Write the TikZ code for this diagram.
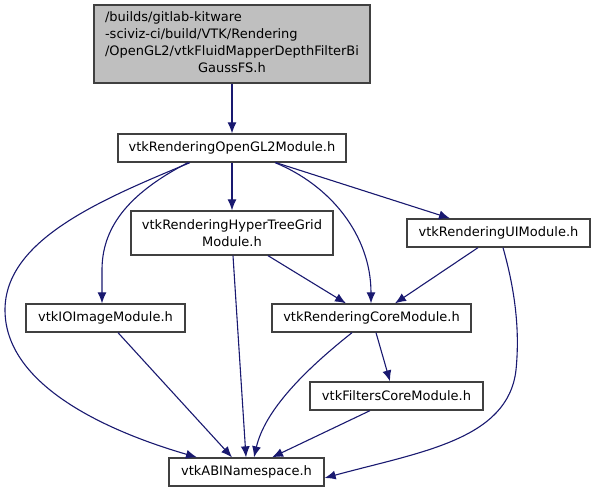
\documentclass[tikz,border=0pt]{standalone}
\usepackage{fontspec}
\setmainfont{DejaVu Sans}
\usetikzlibrary{arrows.meta}
\definecolor{edgeblue}{HTML}{191970}
\definecolor{boxline}{HTML}{404040}
\definecolor{topfill}{HTML}{BFBFBF}
\begin{document}
\begin{tikzpicture}[x=1pt,y=-1pt,
  box/.style={draw=boxline,line width=1.3pt,fill=white,inner sep=0pt,
    font=\fontsize{13}{17}\selectfont,align=center},
  dep/.style={draw=edgeblue,line width=1.1pt,-{Latex[length=11pt,width=9pt]}}]
\useasboundingbox (0,0) rectangle (595,493);
\node[box,fill=topfill,minimum width=276pt,minimum height=78pt] (top) at (232,44)
  {\begin{tabular}{@{}l@{}}/builds/gitlab-kitware\\-sciviz-ci/build/VTK/Rendering\\/OpenGL2/vtkFluidMapperDepthFilterBi\\\multicolumn{1}{@{}c@{}}{GaussFS.h}\end{tabular}};
\node[box,minimum width=228pt,minimum height=28pt] (ogl) at (232,148) {vtkRenderingOpenGL2Module.h};
\node[box,minimum width=202pt,minimum height=44pt] (htg) at (232,233) {vtkRenderingHyperTreeGrid\\Module.h};
\node[box,minimum width=183pt,minimum height=28pt] (ui) at (498.5,233) {vtkRenderingUIModule.h};
\node[box,minimum width=159pt,minimum height=28pt] (io) at (105.5,318) {vtkIOImageModule.h};
\node[box,minimum width=199pt,minimum height=28pt] (core) at (371.5,318) {vtkRenderingCoreModule.h};
\node[box,minimum width=173pt,minimum height=28pt] (filt) at (396.5,396) {vtkFiltersCoreModule.h};
\node[box,minimum width=155pt,minimum height=28pt] (abi) at (246.5,472) {vtkABINamespace.h};

\draw[dep] (top.south) -- (ogl.north);
\draw[dep] ([xshift=-42pt]ogl.south) .. controls (100,200) and (5,240) .. (5,310)
  .. controls (5,390) and (120,435) .. ([xshift=-49.5pt]abi.north);
\draw[dep] ([xshift=-44pt]ogl.south) .. controls (125,195) and (102,230) .. (102,270) -- ([xshift=-3.5pt]io.north);
\draw[dep] (ogl.south) -- (htg.north);
\draw[dep] ([xshift=43pt]ogl.south) .. controls (330,185) and (371,235) .. ([xshift=-0.5pt]core.north);
\draw[dep] ([xshift=44pt]ogl.south) -- ([xshift=-48.5pt]ui.north);
\draw[dep] ([xshift=1pt]htg.south) -- ([xshift=-0.5pt]abi.north);
\draw[dep] ([xshift=36pt]htg.south) -- ([xshift=-25.5pt]core.north);
\draw[dep] ([xshift=-20.5pt]ui.south) -- ([xshift=23.5pt]core.north);
\draw[dep] ([xshift=4.5pt]ui.south) .. controls (515,290) and (520,330) .. (516,370)
  .. controls (508,440) and (420,452) .. ([yshift=-6pt]abi.east);
\draw[dep] ([xshift=12.5pt]io.south) -- ([xshift=-14.5pt]abi.north);
\draw[dep] ([xshift=-19.5pt]core.south) .. controls (305,370) and (265,410) .. ([xshift=7.5pt]abi.north);
\draw[dep] ([xshift=4.5pt]core.south) -- ([xshift=-6.5pt]filt.north);
\draw[dep] ([xshift=-26.5pt]filt.south) -- ([xshift=25.5pt]abi.north);
\end{tikzpicture}
\end{document}
